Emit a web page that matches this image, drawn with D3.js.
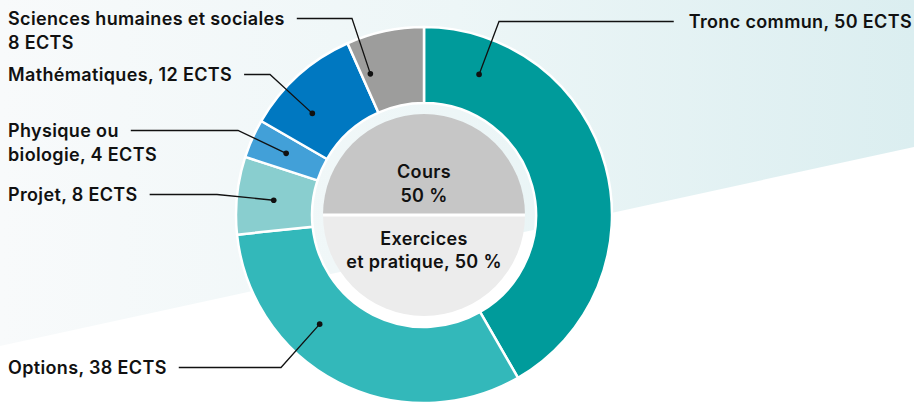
<!DOCTYPE html>
<html>
<head>
<meta charset="utf-8">
<script src="https://cdn.jsdelivr.net/npm/d3@7"></script>
<style>
  html, body { margin: 0; padding: 0; background: #fff; }
  svg { display: block; font-family: Inter, "Liberation Sans", sans-serif; }
</style>
</head>
<body>
<div id="chart"></div>
<script>
// data
const subjects = ["Tronc commun", "Options", "Projet", "Physique ou biologie", "Mathématiques", "Sciences humaines et sociales"];
const ects = [50, 38, 8, 4, 12, 8];
const sliceColors = ["#009b9b", "#33b8ba", "#89cecf", "#42a0d8", "#0078c1", "#9d9d9c"];
const labelLines = [
  ["Tronc commun, 50 ECTS"],
  ["Options, 38 ECTS"],
  ["Projet, 8 ECTS"],
  ["Physique ou", "biologie, 4 ECTS"],
  ["Mathématiques, 12 ECTS"],
  ["Sciences humaines et sociales", "8 ECTS"]
];
const splitNames = ["Cours", "Exercices et pratique"];
const splitValues = [50, 50];
const splitLines = [["Cours", "50 %"], ["Exercices", "et pratique, 50 %"]];
const splitColors = ["#c6c6c6", "#ececec"];

// label placement (angle of the dot in degrees, text pos, elbow x)
const labelLayout = [
  { angle: 21.4, x: 912, y: 28, anchor: "end", elbow: 499 },
  { angle: 223.7, x: 8, y: 374, anchor: "start", elbow: 281 },
  { angle: 275.6, x: 8, y: 201, anchor: "start", elbow: 217 },
  { angle: 294.1, x: 8, y: 137, anchor: "start", elbow: 238 },
  { angle: 312.3, x: 8, y: 81, anchor: "start", elbow: 270 },
  { angle: 339.2, x: 8, y: 25, anchor: "start", elbow: 352 }
];

const width = 914, height = 402;
const cx = 424, cy = 215;
const rOuter = 188, rInner = 112, rPie = 101, rDot = 151;
const lineH = 23.5;
const fontSize = 18;
const spacing = 0.35;

const svg = d3.select("#chart").append("svg")
  .attr("width", width)
  .attr("height", height);

// background band
const defs = svg.append("defs");
const grad = defs.append("linearGradient").attr("id", "bg").attr("x1", 0).attr("x2", 1).attr("y1", 0).attr("y2", 0);
grad.append("stop").attr("offset", "0%").attr("stop-color", "#f8fafb");
grad.append("stop").attr("offset", "50%").attr("stop-color", "#edf6f7");
grad.append("stop").attr("offset", "100%").attr("stop-color", "#dbeef0");
svg.append("polygon")
  .attr("points", `0,0 ${width},0 ${width},147 0,346`)
  .attr("fill", "url(#bg)");

const g = svg.append("g").attr("transform", `translate(${cx},${cy})`);

// outer donut
const pie = d3.pie().sort(null).value(d => d);
const arcs = pie(ects);
const arc = d3.arc().innerRadius(rInner).outerRadius(rOuter);

g.selectAll("path.slice")
  .data(arcs)
  .join("path")
  .attr("class", "slice")
  .attr("d", arc)
  .attr("fill", (d, i) => sliceColors[i])
  .attr("stroke", "#fff")
  .attr("stroke-width", 2.5)
  .attr("stroke-linejoin", "round");

// inner split pie (top / bottom halves)
const pieIn = d3.pie().sort(null).value(d => d)
  .startAngle(-Math.PI / 2).endAngle(Math.PI * 1.5);
const arcIn = d3.arc().innerRadius(0).outerRadius(rPie);
const inner = pieIn(splitValues);

g.selectAll("path.half")
  .data(inner)
  .join("path")
  .attr("class", "half")
  .attr("d", arcIn)
  .attr("fill", (d, i) => splitColors[i]);

g.append("line")
  .attr("x1", -rPie).attr("x2", rPie)
  .attr("y1", 0).attr("y2", 0)
  .attr("stroke", "#fff").attr("stroke-width", 3);

// inner texts
const innerY = [[-37, -13], [30, 53]];
inner.forEach((d, i) => {
  const t = g.append("text")
    .attr("text-anchor", "middle")
    .attr("font-size", fontSize)
    .attr("font-weight", 600)
    .attr("letter-spacing", spacing)
    .attr("fill", "#111");
  splitLines[i].forEach((s, j) => {
    t.append("tspan").attr("x", 0).attr("y", innerY[i][j]).text(s);
  });
});

// outer labels + leaders
const lab = svg.append("g");
arcs.forEach((d, i) => {
  const L = labelLayout[i];
  const a = L.angle * Math.PI / 180;
  const dx = cx + rDot * Math.sin(a);
  const dy = cy - rDot * Math.cos(a);

  const t = lab.append("text")
    .attr("text-anchor", L.anchor)
    .attr("font-size", fontSize)
    .attr("font-weight", 600)
    .attr("letter-spacing", spacing)
    .attr("fill", "#111");
  labelLines[i].forEach((s, j) => {
    t.append("tspan").attr("x", L.x).attr("y", L.y + j * lineH).text(s);
  });

  // leader starts next to first line of text
  const first = t.select("tspan").node();
  const w = first.getComputedTextLength();
  const ly = L.y - 6.5;
  const x0 = L.anchor === "end" ? L.x - w - 15 : L.x + w + 12;

  lab.append("path")
    .attr("d", d3.line()([[x0, ly], [L.elbow, ly], [dx, dy]]))
    .attr("fill", "none")
    .attr("stroke", "#111")
    .attr("stroke-width", 1.3);

  lab.append("circle")
    .attr("cx", dx).attr("cy", dy)
    .attr("r", 2.8)
    .attr("fill", "#111");
});
</script>
</body>
</html>
